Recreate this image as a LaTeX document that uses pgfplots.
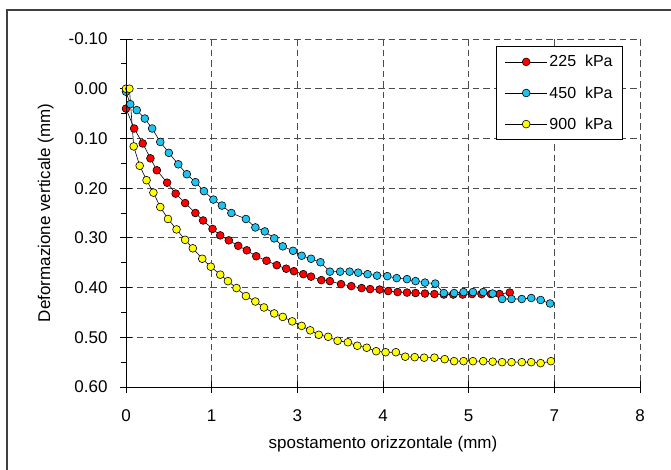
\documentclass[border=0pt]{standalone}
\usepackage{pgfplots}
\pgfplotsset{compat=1.18}
\usepackage{fontspec}
\setmainfont{Liberation Sans}
\definecolor{cred}{HTML}{FF0000}
\definecolor{cblue}{HTML}{1EC3F0}
\definecolor{cyel}{HTML}{FFFF00}
\begin{document}
\begin{tikzpicture}[x=1pt,y=1pt]
\useasboundingbox (0,0) rectangle (671,469);
\clip (0,0) rectangle (671,469);
\draw[line width=2pt, black!75] (7,-20) rectangle (700,459);
\begin{axis}[
  at={(126pt,82pt)}, anchor=south west,
  scale only axis, width=514pt, height=348pt,
  xmin=0, xmax=6, ymin=-0.1, ymax=0.6,
  y dir=reverse,
  xtick={0,1,2,3,4,5,6},
  xticklabels={0,1,3,4,5,7,8},
  ytick={-0.1,0,0.1,0.2,0.3,0.4,0.5,0.6},
  minor y tick num=1,
  yticklabel style={/pgf/number format/fixed, /pgf/number format/fixed zerofill, /pgf/number format/precision=2, xshift=-9pt},
  /pgf/number format/assume math mode=true,
  font=\fontsize{17}{20}\selectfont,
  tick align=center,
  major tick length=12pt, minor tick length=5pt,
  tick style={black, line width=0.8pt},
  minor tick style={xshift=-2.5pt},
  xtick pos=bottom, ytick pos=left,
  xticklabel style={yshift=-13pt},
  grid=major,
  major grid style={dash pattern=on 6.5pt off 4pt, black!70, line width=0.9pt},
  axis line style={draw=none},
  after end axis/.code={\draw[black, line width=0.9pt] (axis description cs:0,1) -- (axis description cs:0,0) -- (axis description cs:1,0);},
  xlabel={spostamento orizzontale (mm)},
  xlabel style={at={(axis description cs:0.5,-0.163)}, anchor=center},
  ylabel={Deformazione verticale (mm)},
  ylabel style={at={(axis description cs:-0.156,0.5)}, anchor=center, rotate=0},
  legend style={at={(0.967,0.98)}, anchor=north east, draw=black, line width=0.8pt,
    font=\fontsize{16}{19}\selectfont, row sep=14pt, inner xsep=8pt, inner ysep=7pt,
    cells={anchor=west}},
  legend cell align=left,
  legend image code/.code={\draw[mark repeat=2,mark phase=2,#1] plot coordinates {(0pt,0pt) (21pt,0pt) (42pt,0pt)};},
  every axis plot/.append style={black, line width=0.6pt, mark=*, mark size=3.9pt,
    mark options={draw=black, line width=1.1pt}},
]
\addplot[mark options={fill=cred}] coordinates {
(0,0.040) (0.095,0.080) (0.195,0.110) (0.285,0.140) (0.36,0.164) (0.48,0.189)
(0.58,0.211) (0.69,0.230) (0.81,0.250) (0.90,0.265) (1.01,0.282) (1.10,0.295)
(1.20,0.305) (1.31,0.316) (1.41,0.325) (1.52,0.337) (1.64,0.346) (1.76,0.355)
(1.87,0.362) (1.96,0.367) (2.07,0.373) (2.16,0.378) (2.28,0.385) (2.38,0.387)
(2.51,0.393) (2.63,0.397) (2.75,0.401) (2.85,0.403) (2.96,0.404) (3.06,0.407)
(3.17,0.409) (3.28,0.410) (3.38,0.411) (3.49,0.412) (3.60,0.413) (3.71,0.414)
(3.82,0.414) (3.93,0.414) (4.04,0.413) (4.15,0.413) (4.26,0.413) (4.36,0.413)
(4.48,0.410)
};
\addlegendentry{225\ \ kPa}
\addplot[mark options={fill=cblue}] coordinates {
(0,0.006) (0.05,0.031) (0.125,0.043) (0.22,0.060) (0.305,0.080) (0.40,0.107)
(0.50,0.129) (0.61,0.152) (0.71,0.172) (0.81,0.188) (0.91,0.206) (1.02,0.223)
(1.12,0.235) (1.23,0.250) (1.40,0.262) (1.51,0.279) (1.62,0.287) (1.73,0.301)
(1.83,0.317) (1.95,0.326) (2.05,0.336) (2.16,0.342) (2.27,0.349) (2.38,0.368)
(2.50,0.368) (2.61,0.368) (2.71,0.370) (2.82,0.373) (2.93,0.376) (3.05,0.377)
(3.16,0.381) (3.28,0.383) (3.38,0.387) (3.49,0.390) (3.61,0.392) (3.71,0.411)
(3.83,0.411) (3.94,0.409) (4.05,0.409) (4.17,0.409) (4.28,0.412) (4.39,0.423)
(4.50,0.423) (4.62,0.423) (4.73,0.421) (4.84,0.425) (4.95,0.432)
};
\addlegendentry{450\ \ kPa}
\addplot[mark options={fill=cyel}] coordinates {
(0,0.0) (0.04,0.0) (0.09,0.116) (0.16,0.155) (0.24,0.184) (0.32,0.209)
(0.40,0.238) (0.49,0.262) (0.59,0.283) (0.69,0.304) (0.78,0.321) (0.89,0.342)
(0.99,0.358) (1.10,0.374) (1.19,0.387) (1.29,0.401) (1.40,0.417) (1.51,0.428)
(1.61,0.440) (1.73,0.452) (1.83,0.459) (1.94,0.468) (2.05,0.477) (2.15,0.486)
(2.25,0.495) (2.36,0.499) (2.47,0.507) (2.59,0.510) (2.70,0.517) (2.81,0.521)
(2.92,0.528) (3.03,0.530) (3.15,0.530) (3.26,0.539) (3.37,0.540) (3.48,0.541)
(3.60,0.541) (3.72,0.544) (3.83,0.548) (3.94,0.548) (4.05,0.548) (4.17,0.548)
(4.28,0.549) (4.39,0.550) (4.50,0.550) (4.62,0.550) (4.73,0.550) (4.84,0.552)
(4.96,0.548)
};
\addlegendentry{900\ \ kPa}
\end{axis}
\end{tikzpicture}
\end{document}
